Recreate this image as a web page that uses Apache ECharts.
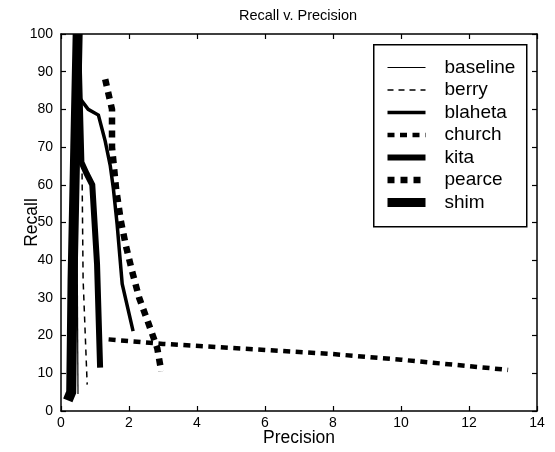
<!DOCTYPE html>
<html>
<head>
<meta charset="utf-8">
<script src="https://cdn.jsdelivr.net/npm/echarts@6/dist/echarts.min.js"></script>
<style>html,body{margin:0;padding:0;background:#fff}#c{width:555px;height:452px}</style>
</head>
<body>
<div id="c"></div>
<script>
// Series data (Precision x, Recall y)
const seriesNames = ['baseline', 'berry', 'blaheta', 'church', 'kita', 'pearce', 'shim'];

const baselineX = [0.44, 0.5];
const baselineY = [100, 4.5];

const berryX = [0.5, 0.62, 0.65, 0.77];
const berryY = [98, 63, 35, 7];

const blahetaX = [0.45, 0.55, 0.8, 1.1, 1.3, 1.45, 1.54, 1.65, 1.8, 2.12];
const blahetaY = [98, 83, 80, 78.5, 71.6, 65, 59, 49.6, 33.7, 21.2];

const churchX = [1.4, 3.0, 6, 8, 10, 12, 13.15];
const churchY = [19, 17.8, 16.2, 15.1, 13.6, 11.9, 10.9];

const kitaX = [0.5, 0.6, 0.75, 0.92, 1.06, 1.15];
const kitaY = [100, 66, 63, 60, 39, 11.5];

const pearceX = [1.3, 1.5, 1.5, 1.62, 1.76, 1.91, 2.09, 2.3, 2.57, 2.83, 2.95];
const pearceY = [88, 80, 70, 59, 50.4, 43.8, 37.1, 30, 23.3, 16.7, 10.5];

const shimX = [0.2, 0.3, 0.34, 0.42, 0.49];
const shimY = [2.8, 5, 35, 70, 100];

const xTicks = [0, 2, 4, 6, 8, 10, 12, 14];
const yTicks = [0, 10, 20, 30, 40, 50, 60, 70, 80, 90, 100];

const styles = {
  baseline: {width: 1.2, type: 'solid'},
  berry: {width: 1.5, type: [6, 5]},
  blaheta: {width: 3.5, type: 'solid'},
  church: {width: 4.5, type: [7, 5.5]},
  kita: {width: 6, type: 'solid'},
  pearce: {width: 6.5, type: [7, 6]},
  shim: {width: 10, type: 'solid'}
};

function pairs(xs, ys) { return xs.map((x, i) => [x, ys[i]]); }
const dataMap = {
  baseline: pairs(baselineX, baselineY),
  berry: pairs(berryX, berryY),
  blaheta: pairs(blahetaX, blahetaY),
  church: pairs(churchX, churchY),
  kita: pairs(kitaX, kitaY),
  pearce: pairs(pearceX, pearceY),
  shim: pairs(shimX, shimY)
};

const FONT = 'Liberation Sans, Arial, sans-serif';
const chart = echarts.init(document.getElementById('c'), null, {renderer: 'canvas'});

function axisLine() { return {show: true, onZero: false, lineStyle: {color: '#000', width: 1.5}}; }
function axisTick() { return {show: true, inside: true, length: 5, lineStyle: {color: '#000', width: 1.2}}; }

chart.setOption({
  animation: false,
  backgroundColor: '#fff',
  title: {
    text: 'Recall v. Precision',
    left: 234, top: 3,
    textStyle: {fontFamily: FONT, fontSize: 14.5, fontWeight: 'normal', color: '#000'}
  },
  grid: {left: 61, right: 18, top: 34, bottom: 41, containLabel: false, outerBoundsMode: 'none'},
  xAxis: [{
      type: 'value', min: xTicks[0], max: xTicks[xTicks.length - 1], interval: 2,
      position: 'bottom',
      name: 'Precision', nameLocation: 'middle', nameGap: 18, nameMoveOverlap: false,
      nameTextStyle: {fontFamily: FONT, fontSize: 17.5, color: '#000'},
      axisLine: axisLine(), axisTick: axisTick(), splitLine: {show: false},
      axisLabel: {inside: false, fontFamily: FONT, fontSize: 14, color: '#000', margin: 5}
    }, {
      type: 'value', min: xTicks[0], max: xTicks[xTicks.length - 1], interval: 2,
      position: 'top',
      axisLine: axisLine(), axisTick: axisTick(), splitLine: {show: false},
      axisLabel: {show: false}
  }],
  yAxis: [{
      type: 'value', min: yTicks[0], max: yTicks[yTicks.length - 1], interval: 10,
      position: 'left',
      name: 'Recall', nameLocation: 'middle', nameGap: 20, nameRotate: 90, nameMoveOverlap: false,
      nameTextStyle: {fontFamily: FONT, fontSize: 17.5, color: '#000'},
      axisLine: axisLine(), axisTick: axisTick(), splitLine: {show: false},
      axisLabel: {inside: false, fontFamily: FONT, fontSize: 14, color: '#000', margin: 8}
    }, {
      type: 'value', min: yTicks[0], max: yTicks[yTicks.length - 1], interval: 10,
      position: 'right',
      axisLine: axisLine(), axisTick: axisTick(), splitLine: {show: false},
      axisLabel: {show: false}
  }],
  legend: {
    orient: 'vertical',
    left: 383, top: 58,
    padding: 0,
    itemWidth: 38, itemHeight: 15, itemGap: 3.5,
    data: seriesNames.map(n => ({
      name: n,
      itemStyle: {opacity: 0, color: 'rgba(0,0,0,0)', borderWidth: 0},
      lineStyle: {color: '#000', width: Math.min(styles[n].width, 9), type: styles[n].type, opacity: 1}
    })),
    textStyle: {fontFamily: FONT, fontSize: 19, color: '#000', padding: [0, 0, 0, 14]},
    z: 20
  },
  graphic: [{
    type: 'rect', left: 373, top: 44, z: 10,
    shape: {width: 153, height: 182},
    style: {fill: '#fff', stroke: '#000', lineWidth: 1.5}
  }],
  series: seriesNames.map(n => ({
    name: n, type: 'line', xAxisIndex: 0, yAxisIndex: 0,
    data: dataMap[n], symbol: 'none', showSymbol: false,
    lineStyle: {color: '#000', width: styles[n].width, type: styles[n].type, cap: 'butt', join: 'miter'},
    itemStyle: {color: '#000'},
    emphasis: {disabled: true}
  }))
});
</script>
</body>
</html>
